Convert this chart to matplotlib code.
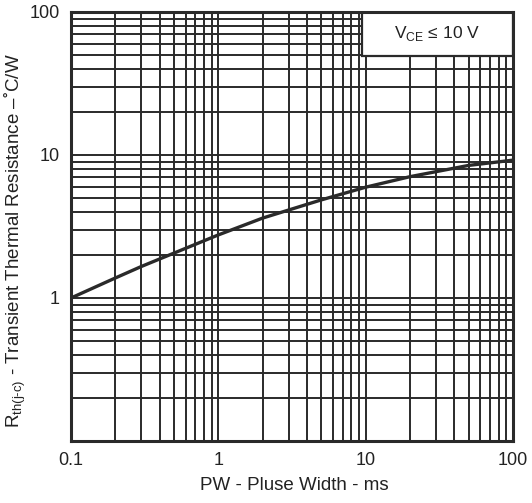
import matplotlib.pyplot as plt
from matplotlib.patches import Rectangle
from matplotlib.ticker import LogLocator, NullFormatter, FixedFormatter, FixedLocator

plt.rcParams['font.family'] = ['Liberation Sans', 'DejaVu Sans']
plt.rcParams['mathtext.fontset'] = 'custom'
plt.rcParams['mathtext.rm'] = 'Liberation Sans'

# pulse width (ms) vs transient thermal resistance (C/W)
pw = [0.1, 0.2, 0.3, 0.5, 1, 2, 5, 10, 20, 50, 100]
rth = [1.0, 1.38, 1.66, 2.06, 2.76, 3.62, 4.85, 5.95, 7.05, 8.45, 9.2]

x_ticks = [0.1, 1, 10, 100]
x_labels = ["0.1", "1", "10", "100"]
y_ticks = [1, 10, 100]
y_labels = ["1", "10", "100"]

INK = "#2a2a2a"

fig = plt.figure(figsize=(5.32, 5.03), dpi=100)
ax = fig.add_axes([0.1335, 0.1233, 0.8305, 0.8529])

ax.set_xscale("log")
ax.set_yscale("log")
ax.set_xlim(0.1, 100)
ax.set_ylim(0.1, 100)

ax.plot(pw, rth, color=INK, lw=2.4, zorder=3, solid_capstyle="butt")

ax.xaxis.set_major_locator(FixedLocator(x_ticks))
ax.xaxis.set_major_formatter(FixedFormatter(x_labels))
ax.yaxis.set_major_locator(FixedLocator(y_ticks))
ax.yaxis.set_major_formatter(FixedFormatter(y_labels))
ax.xaxis.set_minor_locator(LogLocator(base=10, subs=range(2, 10)))
ax.yaxis.set_minor_locator(LogLocator(base=10, subs=range(2, 10)))
ax.xaxis.set_minor_formatter(NullFormatter())
ax.yaxis.set_minor_formatter(NullFormatter())

ax.grid(True, which="both", color=INK, lw=1.4, zorder=1)
ax.set_axisbelow(True)
ax.tick_params(which="both", length=0, labelsize=13, colors="#222222", pad=8)

for s in ax.spines.values():
    s.set_linewidth(2.2)
    s.set_color(INK)
    s.set_zorder(4)

ax.add_patch(Rectangle((0.658, 0.897), 0.342, 0.103, transform=ax.transAxes,
                       facecolor="white", edgecolor=INK, lw=1.6, zorder=3.5))
ax.text(0.828, 0.949, r"V$_{\mathregular{CE}}$ ≤ 10 V", transform=ax.transAxes,
        ha="center", va="center", fontsize=12.5, color="#222222", zorder=5)

ax.set_xlabel("PW - Pluse Width - ms", fontsize=13.5, color="#222222")
ax.xaxis.set_label_coords(0.505, -0.085)
ax.set_ylabel(r"R$_{\mathregular{th(j\text{-}c)}}$ - Transient Thermal Resistance –˚C/W",
              fontsize=13.5, color="#222222")
ax.yaxis.set_label_coords(-0.097, 0.466)

fig.savefig("out.png", dpi=100, facecolor="white")
